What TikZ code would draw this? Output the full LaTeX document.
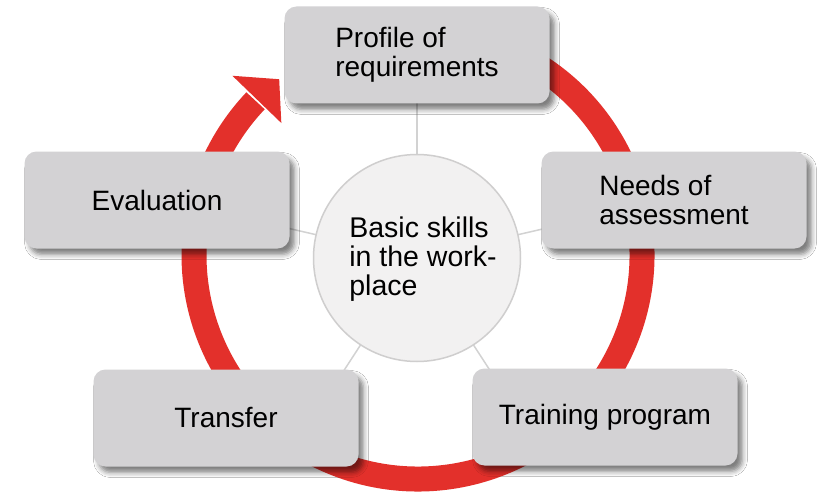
\documentclass[tikz,border=0pt]{standalone}
\usepackage{fontspec}
\setmainfont{Liberation Sans}
\usetikzlibrary{shadows.blur,calc}
\definecolor{ringred}{HTML}{E3302B}
\definecolor{boxgray}{HTML}{D3D2D4}
\definecolor{corefill}{HTML}{F2F1F1}
\definecolor{coreline}{HTML}{CFCECE}
\definecolor{spokegray}{HTML}{D2D2D2}
\begin{document}
\begin{tikzpicture}[x=1pt,y=1pt,
  stepbox/.style={fill=boxgray, draw=none, rounded corners=12pt,
    minimum width=265pt, minimum height=97pt, inner sep=0pt, align=left,
    font=\fontsize{28}{28.5}\selectfont,
    blur shadow={shadow xshift=5pt, shadow yshift=-6pt, shadow blur radius=5pt, shadow opacity=50}},
  corenode/.style={circle, fill=corefill, draw=coreline, line width=1.5pt,
    minimum size=207pt, inner sep=0pt},
  coretext/.style={inner sep=0pt, align=left, font=\fontsize{28.5}{28.7}\selectfont},
  spoke/.style={draw=spokegray, line width=1.5pt},
  ringline/.style={draw=ringred, line width=25pt}]
\useasboundingbox (0,0) rectangle (823,-495);
\fill[white] (0,0) rectangle (823,-495);
% ring with arrow
\coordinate (rc) at (418,-255);
\begin{scope}[shift={(rc)}]
  \draw[ringline] (60:224pt) arc[start angle=60, end angle=-223.5, radius=224pt];
  \fill[ringred] (136:190pt) -- (128.3:224pt) -- (136:258pt) -- cycle;
\end{scope}
% spokes
\coordinate (cc) at (417,-258);
\path (cc) ++(90:160pt) coordinate (s1)
      (cc) ++(13:160pt) coordinate (s2)
      (cc) ++(-57:160pt) coordinate (s3)
      (cc) ++(-123:160pt) coordinate (s4)
      (cc) ++(167:160pt) coordinate (s5);
\foreach \s in {s1,s2,s3,s4,s5} \draw[spoke] (cc) -- (\s);
% center
\node[corenode] (core) at (cc) {};
\node[coretext] (coretxt) at ([xshift=6pt,yshift=-1pt]core.center) {Basic skills\\in the work-\\place};
% boxes
\node[stepbox] (profile) at (417,-55) {Profile of\\requirements};
\node[stepbox] (needs) at (674,-200) {Needs of\\assessment};
\node[stepbox] (training) at (605,-417) {Training program};
\node[stepbox] (transfer) at (226,-418) {Transfer};
\node[stepbox] (evaluation) at (157,-200) {Evaluation};
\end{tikzpicture}
\end{document}
